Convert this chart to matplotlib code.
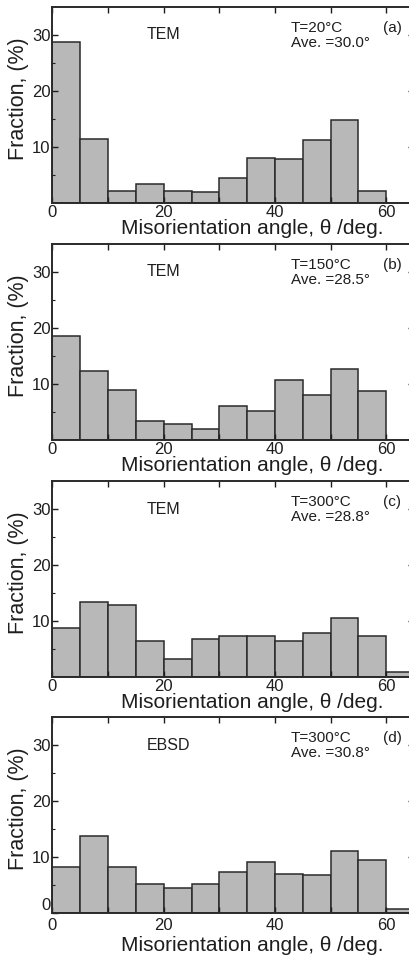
import matplotlib
matplotlib.use("Agg")
import matplotlib.pyplot as plt
import numpy as np

plt.rcParams['font.family'] = ['Liberation Sans', 'DejaVu Sans']

bin_edges = [0, 5, 10, 15, 20, 25, 30, 35, 40, 45, 50, 55, 60, 65]

frac_a = [28.8, 11.5, 2.2, 3.4, 2.2, 2.0, 4.5, 8.0, 7.9, 11.3, 14.9, 2.1, 0.0]
frac_b = [18.6, 12.4, 9.0, 3.4, 2.8, 1.9, 6.1, 5.2, 10.7, 8.0, 12.6, 8.75, 0.0]
frac_c = [8.8, 13.4, 12.8, 6.4, 3.2, 6.8, 7.4, 7.4, 6.4, 7.9, 10.5, 7.3, 0.9]
frac_d = [8.2, 13.8, 8.2, 5.1, 4.5, 5.2, 7.4, 9.1, 7.0, 6.7, 11.1, 9.5, 0.7]

methods = ["TEM", "TEM", "TEM", "EBSD"]
temps = ["T=20°C", "T=150°C", "T=300°C", "T=300°C"]
aves = ["Ave. =30.0°", "Ave. =28.5°", "Ave. =28.8°", "Ave. =30.8°"]
panel_ids = ["(a)", "(b)", "(c)", "(d)"]
series = [frac_a, frac_b, frac_c, frac_d]

xlabel = "Misorientation angle, θ /deg."
ylabel = "Fraction, (%)"

W, H = 410, 956
fig = plt.figure(figsize=(W / 100, H / 100), dpi=100)

tops = [7, 244, 481, 717]
ax_h = 196
left_px = 52.5
right_px = 414

txt_color = "#1e1e1e"
edges = np.array(bin_edges)
widths = np.diff(edges)

for i, (vals, top) in enumerate(zip(series, tops)):
    bottom = H - (top + ax_h)
    ax = fig.add_axes([left_px / W, bottom / H, (right_px - left_px) / W, ax_h / H])
    ax.bar(edges[:-1], vals, width=widths, align='edge',
           facecolor='#b8b8b8', edgecolor='#2a2a2a', linewidth=1.1)
    ax.set_xlim(0, 65)
    ax.set_ylim(0, 35)
    ax.set_xticks([0, 20, 40, 60])
    ax.set_xticks([10, 30, 50], minor=True)
    if i == 3:
        ax.set_yticks([0, 10, 20, 30])
    else:
        ax.set_yticks([10, 20, 30])
    ax.set_yticks([5, 15, 25], minor=True)
    ax.tick_params(axis='both', which='both', direction='in', top=True, right=True,
                   colors=txt_color, labelsize=12)
    ax.tick_params(axis='both', which='major', length=4, width=1.0)
    ax.tick_params(axis='both', which='minor', length=2.5, width=0.8)
    ax.tick_params(axis='x', which='minor', length=4, width=1.0)
    ax.tick_params(axis='x', pad=3.5 if i == 3 else 1.5)
    ax.tick_params(axis='y', pad=1.5)
    for sp in ax.spines.values():
        sp.set_linewidth(1.4)
        sp.set_color('#2a2a2a')

    if i == 3:
        fig.canvas.draw()
        ylabels = ax.get_yticklabels()
        ylabels[0].set_va('bottom')
        ylabels[0].set_y(0)

    xl = ax.set_xlabel(xlabel, fontsize=15, color=txt_color)
    xl.set_va('center')
    ax.xaxis.set_label_coords(0.552, -0.165 if i == 3 else -0.13)
    yl = ax.set_ylabel(ylabel, fontsize=15.5, color=txt_color)
    yl.set_va('center')
    ax.yaxis.set_label_coords(-0.095, 0.53)

    ax.text(17, 30, methods[i], fontsize=11.5, color=txt_color, ha='left', va='center')
    ax.text(42.9, 31.3, temps[i], fontsize=11, color=txt_color, ha='left', va='center')
    ax.text(42.9, 28.5, aves[i], fontsize=11, color=txt_color, ha='left', va='center')
    ax.text(59.4, 31.3, panel_ids[i], fontsize=11, color=txt_color, ha='left', va='center')

fig.savefig("out.png", dpi=100)
